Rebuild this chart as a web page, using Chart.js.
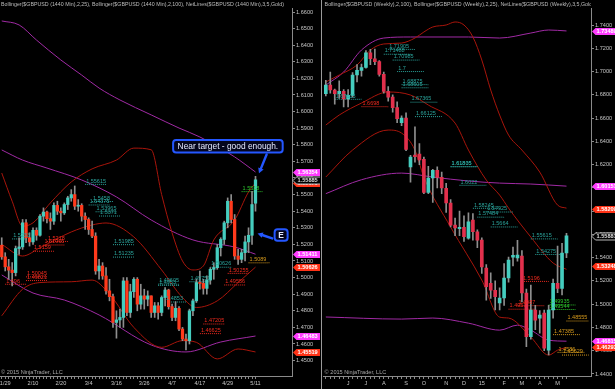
<!DOCTYPE html>
<html>
<head>
<meta charset="utf-8">
<script src="https://cdn.jsdelivr.net/npm/chart.js@4.4.1/dist/chart.umd.min.js"></script>
<style>
html, body { margin: 0; padding: 0; background: #000; overflow: hidden; }
#wrap { position: relative; width: 615px; height: 389px; }
#left { position: absolute; left: 0; top: 0; }
#right { position: absolute; left: 320px; top: 0; }
</style>
</head>
<body>
<div id="wrap">
  <canvas id="left" width="320" height="389"></canvas>
  <canvas id="right" width="295" height="389"></canvas>
</div>
<script>
// ---------- daily panel ($GBPUSD 1440 Min) ----------
var dayDates = ['1/28','1/29','1/30',
  '2/2','2/3','2/4','2/5','2/6', '2/9','2/10','2/11','2/12','2/13',
  '2/16','2/17','2/18','2/19','2/20', '2/23','2/24','2/25','2/26','2/27',
  '3/2','3/3','3/4','3/5','3/6', '3/9','3/10','3/11','3/12','3/13',
  '3/16','3/17','3/18','3/19','3/20', '3/23','3/24','3/25','3/26','3/27',
  '3/30','3/31','4/1','4/2','4/3', '4/6','4/7','4/8','4/9','4/10',
  '4/13','4/14','4/15','4/16','4/17', '4/20','4/21','4/22','4/23','4/24',
  '4/27','4/28','4/29','4/30','5/1', '5/4','5/5','5/6','5/7','5/8', '5/11'];
var dayOpen = [1.5195,1.5125,1.5065,
  1.5045,1.5030,1.5175,1.5185,1.5330, 1.5240,1.5215,1.5285,1.5255,1.5370,
  1.5395,1.5355,1.5340,1.5435,1.5400, 1.5390,1.5440,1.5480,1.5500,1.5430,
  1.5435,1.5370,1.5350,1.5290,1.5250, 1.5040,1.5070,1.5010,1.4920,1.4885,
  1.4730,1.4745,1.4760,1.4980,1.4790, 1.4915,1.4990,1.4840,1.4890,1.4870,
  1.4890,1.4790,1.4830,1.4790,1.4880, 1.4925,1.4825,1.4760,1.4815,1.4690,
  1.4630,1.4620,1.4800,1.4860,1.4970, 1.4965,1.4935,1.4985,1.5050,1.5060,
  1.5180,1.5230,1.5330,1.5460,1.5350, 1.5130,1.5110,1.5150,1.5215,1.5255, 1.5448];
var dayHigh = [1.5240,1.5150,1.5110,
  1.5090,1.5190,1.5240,1.5350,1.5350, 1.5270,1.5300,1.5300,1.5380,1.5420,
  1.5400,1.5390,1.5450,1.5460,1.5420, 1.5450,1.5490,1.5530,1.5552,1.5470,
  1.5445,1.5390,1.5360,1.5340,1.5270, 1.5110,1.5090,1.5060,1.4990,1.4900,
  1.4800,1.4810,1.5000,1.5000,1.4960, 1.5000,1.5000,1.4960,1.4930,1.4920,
  1.4890,1.4850,1.4850,1.4890,1.4940, 1.4930,1.4840,1.4855,1.4825,1.4700,
  1.4660,1.4810,1.4870,1.4990,1.5040, 1.4990,1.5010,1.5060,1.5090,1.5200,
  1.5240,1.5340,1.5480,1.5500,1.5380, 1.5170,1.5170,1.5250,1.5300,1.5520, 1.5610];
var dayLow = [1.5110,1.5040,1.4990,
  1.4950,1.5010,1.5140,1.5170,1.5210, 1.5190,1.5200,1.5225,1.5250,1.5340,
  1.5330,1.5290,1.5320,1.5380,1.5340, 1.5380,1.5410,1.5460,1.5410,1.5400,
  1.5340,1.5290,1.5260,1.5240,1.5020, 1.4990,1.4990,1.4900,1.4860,1.4700,
  1.4635,1.4700,1.4700,1.4770,1.4760, 1.4880,1.4800,1.4810,1.4810,1.4830,
  1.4760,1.4760,1.4750,1.4770,1.4830, 1.4810,1.4740,1.4740,1.4680,1.4620,
  1.4565,1.4600,1.4770,1.4850,1.4930, 1.4900,1.4900,1.4960,1.4990,1.5050,
  1.5130,1.5200,1.5300,1.5330,1.5110, 1.5080,1.5090,1.5100,1.5150,1.5200, 1.5400];
var dayClose = [1.5125,1.5065,1.5045,
  1.5030,1.5175,1.5185,1.5330,1.5240, 1.5215,1.5285,1.5255,1.5370,1.5395,
  1.5355,1.5340,1.5435,1.5400,1.5390, 1.5440,1.5480,1.5500,1.5430,1.5435,
  1.5370,1.5350,1.5290,1.5250,1.5040, 1.5070,1.5010,1.4920,1.4885,1.4730,
  1.4745,1.4760,1.4980,1.4790,1.4915, 1.4990,1.4840,1.4890,1.4870,1.4890,
  1.4790,1.4830,1.4790,1.4880,1.4925, 1.4825,1.4760,1.4815,1.4690,1.4630,
  1.4620,1.4800,1.4860,1.4970,1.4965, 1.4935,1.4985,1.5050,1.5060,1.5180,
  1.5230,1.5330,1.5460,1.5350,1.5130, 1.5110,1.5150,1.5215,1.5255,1.5440, 1.5589];
var dayFuture = ['+1','+2','+3','+4','+5','+6','+7','+8','+9','+10'];
var dayAxisDates = ['1/29','2/10','2/20','3/4','3/16','3/26','4/7','4/17','4/29','5/11'];
var dayPriceTicks = [1.66,1.65,1.64,1.63,1.62,1.61,1.60,1.59,1.58,1.57,1.56,1.55,1.54,1.53,1.52,1.51,1.50,1.49,1.48,1.47,1.46,1.45];

// bollinger bands, [date, price]
var dayBB25Up  = [['1/28',1.5630],['2/2',1.5460],['2/5',1.5310],['2/10',1.5330],['2/17',1.5450],['2/25',1.5576],['3/5',1.5655],['3/16',1.5708],['3/23',1.5780],['3/30',1.5770],['4/2',1.5500],['4/7',1.5270],['4/10',1.5100],['4/15',1.5046],['4/20',1.5070],['4/23',1.5227],['5/1',1.5347],['5/7',1.5516],['5/11',1.5570]];
var dayBB25Mid = [['1/28',1.5200],['2/5',1.5130],['2/12',1.5180],['2/25',1.5275],['3/5',1.5317],['3/11',1.5329],['3/23',1.5245],['4/2',1.5046],['4/10',1.4880],['4/16',1.4820],['4/24',1.4860],['5/4',1.4970],['5/11',1.5063]];
var dayBB25Low = [['1/28',1.4770],['2/5',1.4930],['2/12',1.4970],['2/25',1.4975],['3/5',1.4985],['3/12',1.4900],['3/23',1.4700],['4/2',1.4580],['4/10',1.4620],['4/16',1.4610],['4/24',1.4510],['5/4',1.4570],['5/11',1.4552]];
var dayBB100Up  = [['1/28',1.6546],['2/4',1.6522],['2/11',1.6431],['2/20',1.6311],['3/2',1.6220],['3/9',1.6142],['3/17',1.6070],['3/30',1.5980],['4/9',1.5901],['4/17',1.5847],['5/1',1.5727],['5/11',1.5636]];
var dayBB100Mid = [['1/28',1.5769],['2/5',1.5708],['2/16',1.5660],['3/2',1.5588],['3/16',1.5486],['3/30',1.5347],['4/15',1.5227],['5/1',1.5184],['5/11',1.5141]];
var dayBB100Low = [['1/28',1.5016],['2/10',1.4907],['2/23',1.4865],['3/9',1.4775],['3/30',1.4594],['4/13',1.4552],['4/27',1.4612],['5/11',1.4648]];

// NetLines labels: text, price, first bar, family
var dayNetText  = ['1.55615','1.5458','1.54375','1.53965','1.5371','1.5233','1.5218','1.51965','1.5159','1.50045','1.49821','1.496','1.51985','1.51235','1.49605','1.4953','1.49751','1.50626','1.50255','1.49556','1.5089','1.5518','1.47205','1.46625','1.4853'];
var dayNetPrice = [1.55615,1.5458,1.54375,1.53965,1.5371,1.5233,1.5218,1.51965,1.5159,1.50045,1.49821,1.496,1.51985,1.51235,1.49605,1.4953,1.49751,1.50626,1.50255,1.49556,1.5089,1.5518,1.47205,1.46625,1.4853];
var dayNetFrom  = ['3/3','3/5','3/4','3/6','3/9','2/2','2/16','2/13','2/10','2/6','2/6','1/29','3/13','3/13','4/1','4/1','4/14','4/22','4/29','4/28','5/7','5/5','4/20','4/17','4/3'];
var dayNetKind  = ['t','t','t','t','t','t','r','r','r','r','r','r','t','t','t','t','t','t','r','r','o','g','r','r','t'];

var dayTags = [[1.5567,'1.55670','red'],[1.56354,'1.56354','pink'],[1.55885,'1.55885','box'],[1.51411,'1.51411','pink'],[1.50626,'1.50626','red'],[1.46483,'1.46483','pink'],[1.45519,'1.45519','red']];

// ---------- weekly panel ($GBPUSD Weekly) ----------
var wkDates = ['5/2/14','5/9/14','5/16/14','5/23/14','5/30/14','6/6/14','6/13/14','6/20/14','6/27/14',
  '7/4/14','7/11/14','7/18/14','7/25/14','8/1/14','8/8/14','8/15/14','8/22/14','8/29/14',
  '9/5/14','9/12/14','9/19/14','9/26/14','10/3/14','10/10/14','10/17/14','10/24/14','10/31/14',
  '11/7/14','11/14/14','11/21/14','11/28/14','12/5/14','12/12/14','12/19/14','12/26/14',
  '1/2/15','1/9/15','1/16/15','1/23/15','1/30/15','2/6/15','2/13/15','2/20/15','2/27/15',
  '3/6/15','3/13/15','3/20/15','3/27/15','4/3/15','4/10/15','4/17/15','4/24/15','5/1/15','5/8/15','5/15/15'];
var wkOpen = [1.6810,1.6884,1.6841,1.6810,1.6830,1.6765,1.6795,1.6970,1.7010,
  1.7035,1.7160,1.7110,1.7085,1.6975,1.6830,1.6780,1.6690,1.6560,
  1.6600,1.6180,1.6282,1.6290,1.6245,1.5960,1.6085,1.6150,1.6090,
  1.5995,1.5870,1.5680,1.5650,1.5660,1.5568,1.5723,1.5623,
  1.5551,1.5310,1.5180,1.5120,1.5010,1.5053,1.5225,1.5405,1.5397,
  1.5414,1.5096,1.4720,1.4950,1.4880,1.4924,1.4605,1.4950,1.5180,1.5136,1.5440];
var wkHigh = [1.6925,1.6996,1.6850,1.6920,1.6845,1.6845,1.6990,1.7060,1.7065,
  1.7180,1.7190,1.7192,1.7095,1.6995,1.6870,1.6800,1.6740,1.6620,
  1.6645,1.6280,1.6525,1.6380,1.6265,1.6185,1.6160,1.6180,1.6135,
  1.6040,1.5900,1.5740,1.5800,1.5760,1.5785,1.5780,1.5640,
  1.5570,1.5340,1.5270,1.5200,1.5140,1.5350,1.5405,1.5490,1.5550,
  1.5460,1.5130,1.5165,1.4990,1.4945,1.4950,1.4990,1.5215,1.5500,1.5523,1.5610];
var wkLow = [1.6790,1.6815,1.6720,1.6770,1.6695,1.6695,1.6780,1.6910,1.6960,
  1.7030,1.7060,1.7060,1.6960,1.6815,1.6745,1.6650,1.6560,1.6535,
  1.6320,1.6050,1.6220,1.6200,1.5950,1.5950,1.5875,1.6000,1.5950,
  1.5790,1.5665,1.5590,1.5590,1.5540,1.5560,1.5550,1.5485,
  1.5265,1.5035,1.5050,1.4950,1.4950,1.4990,1.5190,1.5330,1.5370,
  1.5020,1.4635,1.4700,1.4780,1.4750,1.4600,1.4565,1.4880,1.5100,1.5080,1.5400];
var wkClose = [1.6884,1.6841,1.6810,1.6830,1.6765,1.6795,1.6970,1.7010,1.7035,
  1.7160,1.7110,1.7085,1.6975,1.6830,1.6780,1.6690,1.6595,1.6600,
  1.6330,1.6265,1.6268,1.6240,1.5960,1.6085,1.6150,1.6090,1.6000,
  1.5870,1.5680,1.5655,1.5660,1.5580,1.5709,1.5623,1.5551,
  1.5320,1.5150,1.5120,1.5064,1.5053,1.5225,1.5380,1.5420,1.5422,
  1.5096,1.4720,1.4950,1.4863,1.4906,1.4623,1.4950,1.5180,1.5136,1.5440,1.5588];
var wkFuture = ['+1w','+2w','+3w','+4w','+5w'];
var wkAxisText = {'6/6/14':'J','7/4/14':'J','8/1/14':'A','9/5/14':'S','10/3/14':'O','11/7/14':'N','12/5/14':'D',
  '1/2/15':'15','2/6/15':'F','3/6/15':'M','4/3/15':'A','5/1/15':'M'};
var wkPriceTicks = [1.74,1.72,1.70,1.68,1.66,1.64,1.62,1.60,1.58,1.56,1.54,1.52,1.50,1.48,1.46,1.44];

var wkBB25Up  = [['5/2/14',1.6910],['5/23/14',1.6970],['6/20/14',1.7056],['7/11/14',1.7185],['8/1/14',1.7237],['8/29/14',1.7245],['9/19/14',1.7288],['10/3/14',1.7340],['10/17/14',1.7383],['11/7/14',1.7400],['11/21/14',1.7426],['12/5/14',1.7400],['12/19/14',1.7297],['1/2/15',1.7099],['1/16/15',1.6841],['1/30/15',1.6626],['2/13/15',1.6454],['3/6/15',1.6325],['4/3/15',1.6136],['5/1/15',1.5852],['5/15/15',1.5826]];
var wkBB25Mid = [['5/2/14',1.6540],['5/23/14',1.6626],['6/27/14',1.6729],['8/8/14',1.6824],['9/12/14',1.6798],['10/10/14',1.6712],['11/21/14',1.6557],['12/12/14',1.6325],['1/9/15',1.6067],['1/30/15',1.5938],['2/13/15',1.5826],['3/20/15',1.5577],['4/24/15',1.5354],['5/15/15',1.5300]];
var wkBB25Low = [['5/2/14',1.6093],['6/13/14',1.6325],['8/8/14',1.6497],['8/29/14',1.6471],['9/19/14',1.6325],['10/3/14',1.6093],['11/14/14',1.5663],['1/2/15',1.5207],['1/30/15',1.4889],['2/13/15',1.4881],['3/20/15',1.4717],['4/17/15',1.4562],['5/1/15',1.4605],['5/15/15',1.4629]];
var wkBB100Up  = [['5/2/14',1.6884],['5/30/14',1.6996],['6/27/14',1.7185],['8/1/14',1.7288],['9/12/14',1.7297],['12/12/14',1.7297],['1/30/15',1.7288],['3/20/15',1.7331],['4/17/15',1.7357],['5/15/15',1.7349]];
var wkBB100Mid = [['5/2/14',1.5950],['6/27/14',1.6070],['8/29/14',1.6127],['10/17/14',1.6093],['12/12/14',1.6059],['1/30/15',1.6041],['3/20/15',1.6033],['5/15/15',1.6015]];
var wkBB100Low = [['5/2/14',1.4890],['8/29/14',1.4872],['10/17/14',1.4881],['12/12/14',1.4837],['1/30/15',1.4777],['2/27/15',1.4820],['3/20/15',1.4777],['4/17/15',1.4691],['5/15/15',1.4682]];

var wkNetText  = ['1.71905','1.71488','1.70985','1.7','1.68875','1.68605','1.67365','1.66125','1.61805','1.61835','1.6698','1.67615','1.6022','1.58245','1.57925','1.57484','1.5664','1.55615','1.54275','1.5196','1.4987','1.4957','1.49935','1.49544','1.48555','1.47385','1.4586','1.45629'];
var wkNetPrice = [1.71905,1.71488,1.70985,1.7,1.68875,1.68605,1.67365,1.66125,1.61805,1.61835,1.6698,1.67615,1.6022,1.58245,1.57925,1.57484,1.5664,1.55615,1.54275,1.5196,1.4987,1.4957,1.49935,1.49544,1.48555,1.47385,1.4586,1.45629];
var wkNetFrom  = ['8/8/14','8/1/14','8/15/14','8/22/14','8/29/14','8/29/14','9/12/14','9/19/14','11/14/14','11/14/14','6/27/14','5/16/14','11/28/14','12/19/14','1/9/15','12/26/14','1/16/15','3/20/15','3/27/15','3/6/15','2/27/15','2/13/15','4/17/15','4/17/15','5/15/15','4/24/15','5/1/15','5/8/15'];
var wkNetKind  = ['t','t','t','t','t','t','t','t','t','t','r','t','t','t','t','t','t','t','t','r','r','r','g','g','o','o','o','o'];

var wkTags = [[1.73489,'1.73489','pink'],[1.60151,'1.60151','pink'],[1.58209,'1.58209','red'],[1.55881,'1.55881','box'],[1.53248,'1.53248','red'],[1.46815,'1.46815','pink'],[1.46293,'1.46293','red']];

// ---------- drawing ----------
var FONT = "'Liberation Sans', Arial, sans-serif";
var UP = '#45cdbf', DOWN_DAY = '#ff3a1c', DOWN_WK = '#e2304c', WICK = '#8e8e8e';
var RED_BAND = '#a8150b', PURPLE_BAND = '#a02aa4';
var NET_COL = { t: '#2aa39b', r: '#f02a1e', o: '#d69a1c', g: '#2cc62c' };
var TAG_COL = { pink: '#ff3cff', red: '#ff3216' };

function candles(o, h, l, c, down, bodyW) {
  var cols = c.map(function (v, i) { return v >= o[i] ? UP : down; });
  return [
    { type: 'bar', data: o.map(function (v, i) { return [v, c[i]]; }), backgroundColor: cols,
      barThickness: bodyW, grouped: false, minBarLength: 1, order: 0 },
    { type: 'bar', data: l.map(function (v, i) { return [v, h[i]]; }), backgroundColor: WICK,
      barThickness: 1, grouped: false, order: 1 }
  ];
}
function band(pts, col) {
  return { type: 'line', data: pts.map(function (p) { return { x: p[0], y: p[1] }; }),
    borderColor: col, borderWidth: 1, pointRadius: 0, cubicInterpolationMode: 'monotone', order: 3 };
}
function netLines(labels, text, price, from, kind) {
  return text.map(function (t, i) {
    var a = labels.indexOf(from[i]);
    var b = labels[Math.min(a + 6, labels.length - 1)];
    return { type: 'line', data: [{ x: from[i], y: price[i] }, { x: b, y: price[i] }],
      borderColor: NET_COL[kind[i]], borderWidth: 1, borderDash: [1, 1], pointRadius: 0, order: 2 };
  });
}
function netLabels(text, price, from, kind) {
  return {
    id: 'netLabels',
    afterDatasetsDraw: function (chart) {
      var ctx = chart.ctx, xs = chart.scales.x, ys = chart.scales.y, ca = chart.chartArea;
      ctx.save();
      ctx.beginPath(); ctx.rect(ca.left, ca.top, ca.right - ca.left, ca.bottom - ca.top); ctx.clip();
      ctx.font = '5.5px ' + FONT; ctx.textBaseline = 'bottom';
      text.forEach(function (t, i) {
        ctx.fillStyle = NET_COL[kind[i]];
        ctx.fillText(t, xs.getPixelForValue(xs.getLabels().indexOf(from[i])) + 1, ys.getPixelForValue(price[i]) - 0.5);
      });
      ctx.restore();
    }
  };
}
function tagsPlugin(tags) {
  return {
    id: 'tags',
    afterDraw: function (chart) {
      var ctx = chart.ctx, ys = chart.scales.y, x = chart.chartArea.right + 1;
      ctx.save();
      ctx.font = 'bold 5.6px ' + FONT; ctx.textBaseline = 'middle';
      tags.forEach(function (t) {
        var y = Math.round(ys.getPixelForValue(t[0])) + 0.5;
        ctx.beginPath();
        ctx.moveTo(x, y); ctx.lineTo(x + 3.5, y - 3.5); ctx.lineTo(x + 40, y - 3.5);
        ctx.lineTo(x + 40, y + 3.5); ctx.lineTo(x + 3.5, y + 3.5); ctx.closePath();
        if (t[2] === 'box') {
          ctx.fillStyle = '#000'; ctx.fill(); ctx.strokeStyle = '#b8b8b8'; ctx.lineWidth = 1; ctx.stroke();
          ctx.fillStyle = '#dedede';
        } else {
          ctx.fillStyle = TAG_COL[t[2]]; ctx.fill(); ctx.fillStyle = '#ffffff';
        }
        ctx.fillText(t[1], x + 4.5, y + 0.3);
      });
      ctx.restore();
    }
  };
}
function framePlugin(header, sepLine) {
  return {
    id: 'frame',
    afterDraw: function (chart) {
      var ctx = chart.ctx, ca = chart.chartArea;
      ctx.save();
      if (sepLine) {
        ctx.strokeStyle = '#9a9a9a'; ctx.lineWidth = 1;
        ctx.beginPath(); ctx.moveTo(1.5, 0); ctx.lineTo(1.5, chart.height); ctx.stroke();
      }
      ctx.beginPath(); ctx.rect(ca.left, 0, ca.right - ca.left, chart.height); ctx.clip();
      ctx.font = '5.3px ' + FONT; ctx.fillStyle = '#bcbcbc'; ctx.textBaseline = 'middle';
      ctx.fillText(header, ca.left + 1, 4.5);
      ctx.fillStyle = '#a8a8a8'; ctx.font = '5.6px ' + FONT;
      ctx.fillText('\u00a9 2015 NinjaTrader, LLC', ca.left + 1, ca.bottom - 4);
      ctx.restore();
    }
  };
}
function yAxis(ticks, min, max, w) {
  return {
    position: 'right', min: min, max: max,
    afterBuildTicks: function (a) { a.ticks = ticks.map(function (v) { return { value: v }; }); },
    afterFit: function (a) { a.width = w; },
    grid: { drawOnChartArea: false, tickLength: 3, color: '#8a8a8a' },
    border: { color: '#8a8a8a' },
    ticks: { padding: 1, color: '#c4c4c4', font: { size: 5.6 }, callback: function (v) { return v.toFixed(4); } }
  };
}
function xAxis(nBars, labelFor) {
  return {
    type: 'category', offset: true,
    afterFit: function (a) { a.height = 13; },
    grid: { drawOnChartArea: false, offset: false, tickLength: 3,
      color: function (c) { return c.index < nBars ? '#8a8a8a' : 'rgba(0,0,0,0)'; } },
    border: { color: '#8a8a8a' },
    ticks: { autoSkip: false, maxRotation: 0, padding: 1, color: '#c4c4c4', font: { size: 5.6 },
      callback: function (v) { return labelFor(this.getLabelForValue(v)); } }
  };
}
function arrow(ctx, x1, y1, x2, y2) {
  var a = Math.atan2(y2 - y1, x2 - x1), hl = 6;
  ctx.beginPath(); ctx.moveTo(x1, y1);
  ctx.lineTo(x2 - Math.cos(a) * hl * 0.8, y2 - Math.sin(a) * hl * 0.8); ctx.stroke();
  ctx.beginPath(); ctx.moveTo(x2, y2);
  ctx.lineTo(x2 - hl * Math.cos(a - 0.5), y2 - hl * Math.sin(a - 0.5));
  ctx.lineTo(x2 - hl * Math.cos(a + 0.5), y2 - hl * Math.sin(a + 0.5));
  ctx.closePath(); ctx.fill();
}
function roundBox(ctx, x, y, w, h, r) {
  ctx.beginPath();
  ctx.moveTo(x + r, y); ctx.arcTo(x + w, y, x + w, y + h, r); ctx.arcTo(x + w, y + h, x, y + h, r);
  ctx.arcTo(x, y + h, x, y, r); ctx.arcTo(x, y, x + w, y, r); ctx.closePath();
}
// hand-drawn notes, anchored in bar index / price
var notes = {
  id: 'notes',
  afterDatasetsDraw: function (chart) {
    var ctx = chart.ctx, xs = chart.scales.x, ys = chart.scales.y;
    var px = function (i) { return xs.getPixelForValue(i); }, py = function (p) { return ys.getPixelForValue(p); };
    ctx.save();
    ctx.strokeStyle = '#2457ff'; ctx.fillStyle = '#2457ff'; ctx.lineWidth = 2.4; ctx.lineCap = 'round';
    arrow(ctx, px(76.2), py(1.5742), px(74.0), py(1.5628));
    arrow(ctx, px(77.8), py(1.5236), px(73.6), py(1.5266));
    ctx.font = '8.4px ' + FONT; ctx.textBaseline = 'middle';
    var t = 'Near target - good enough.';
    var bx = px(49.3), by = py(1.5829), bw = ctx.measureText(t).width + 9, bh = 12.5;
    roundBox(ctx, bx, by, bw, bh, 3); ctx.fillStyle = '#04051c'; ctx.fill(); ctx.lineWidth = 2; ctx.stroke();
    ctx.fillStyle = '#e4eaff'; ctx.fillText(t, bx + 4.5, by + bh / 2 + 0.5);
    var ex = px(78.5), ey = py(1.5292);
    roundBox(ctx, ex, ey, 13, 11.5, 3); ctx.fillStyle = '#04051c'; ctx.fill(); ctx.stroke();
    ctx.fillStyle = '#e4eaff'; ctx.font = 'bold 8.4px ' + FONT; ctx.textAlign = 'center';
    ctx.fillText('E', ex + 6.5, ey + 6.3);
    ctx.restore();
  }
};

Chart.defaults.font.family = FONT;
var common = { responsive: false, animation: false, devicePixelRatio: 1,
  plugins: { legend: { display: false }, tooltip: { enabled: false } } };

var dayLabels = dayDates.concat(dayFuture);
new Chart(document.getElementById('left'), {
  type: 'bar',
  data: {
    labels: dayLabels,
    datasets: candles(dayOpen, dayHigh, dayLow, dayClose, DOWN_DAY, 2.6).concat(
      [band(dayBB25Up, RED_BAND), band(dayBB25Mid, RED_BAND), band(dayBB25Low, RED_BAND),
       band(dayBB100Up, PURPLE_BAND), band(dayBB100Mid, PURPLE_BAND), band(dayBB100Low, PURPLE_BAND)],
      netLines(dayLabels, dayNetText, dayNetPrice, dayNetFrom, dayNetKind))
  },
  options: Object.assign({}, common, {
    layout: { padding: { top: 8, left: 0, right: 0, bottom: 0 } },
    scales: {
      x: xAxis(dayDates.length, function (l) { return dayAxisDates.indexOf(l) >= 0 ? l : ''; }),
      y: yAxis(dayPriceTicks, 1.44072, 1.66241, 28)
    }
  }),
  plugins: [netLabels(dayNetText, dayNetPrice, dayNetFrom, dayNetKind), notes, tagsPlugin(dayTags),
    framePlugin('Bollinger($GBPUSD (1440 Min),2,25), Bollinger($GBPUSD (1440 Min),2,100), NetLines($GBPUSD (1440 Min),3,5,Gold)', false)]
});

var wkLabels = wkDates.concat(wkFuture);
new Chart(document.getElementById('right'), {
  type: 'bar',
  data: {
    labels: wkLabels,
    datasets: candles(wkOpen, wkHigh, wkLow, wkClose, DOWN_WK, 3).concat(
      [band(wkBB25Up, RED_BAND), band(wkBB25Mid, RED_BAND), band(wkBB25Low, RED_BAND),
       band(wkBB100Up, PURPLE_BAND), band(wkBB100Mid, PURPLE_BAND), band(wkBB100Low, PURPLE_BAND)],
      netLines(wkLabels, wkNetText, wkNetPrice, wkNetFrom, wkNetKind))
  },
  options: Object.assign({}, common, {
    layout: { padding: { top: 8, left: 3.6, right: 0, bottom: 0 } },
    scales: {
      x: xAxis(wkDates.length, function (l) { return wkAxisText[l] || ''; }),
      y: yAxis(wkPriceTicks, 1.43828, 1.75462, 24)
    }
  }),
  plugins: [netLabels(wkNetText, wkNetPrice, wkNetFrom, wkNetKind), tagsPlugin(wkTags),
    framePlugin('Bollinger($GBPUSD (Weekly),2,100), Bollinger($GBPUSD (Weekly),2,25), NetLines($GBPUSD (Weekly),3,5,Gold)', true)]
});
</script>
</body>
</html>
